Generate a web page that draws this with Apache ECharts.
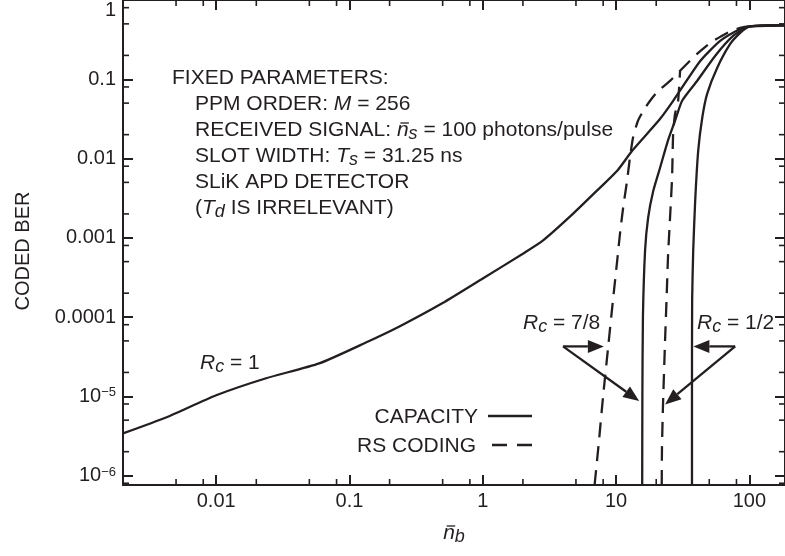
<!DOCTYPE html>
<html>
<head>
<meta charset="utf-8">
<script src="https://cdn.jsdelivr.net/npm/echarts@6/dist/echarts.min.js"></script>
<style>
html, body { margin: 0; padding: 0; background: #fff; }
#chart { width: 785px; height: 556px; }
</style>
</head>
<body>
<div id="chart"></div>
<script>
var FONT = '"Liberation Sans", Arial, sans-serif';
var INK = '#231f20';
var TXT = 21, SUB = 18;

var xMin = 0.002, xMax = 185;
var yMin = 7.6e-7, yMax = 1;

// tick labels, indexed by decade
var xTickLabels = ['0.01', '0.1', '1', '10', '100'];          // 10^-2 .. 10^2
var yTickLabels = ['1', '0.1', '0.01', '0.001', '0.0001', '10{sup|\u22125}', '10{sup|\u22126}']; // 10^0 .. 10^-6
var xMinorTicks = [0.005, 0.008, 0.02, 0.05, 0.08, 0.2, 0.5, 0.8, 2, 5, 8, 20, 50, 80];
var yMinorTicks = [8e-7, 2e-6, 5e-6, 8e-6, 2e-5, 5e-5, 8e-5, 2e-4, 5e-4, 8e-4, 2e-3, 5e-3, 8e-3,
	0.02, 0.05, 0.08, 0.2, 0.5, 0.8];

// R_c = 1 (no coding)
var uncodedX = [0.002, 0.0042, 0.01, 0.0237, 0.0593, 0.134, 0.237, 0.5, 1.0, 2.0, 2.82, 4.74, 7.59,
	10.2, 13.2, 17.1, 21.4, 26.8, 42.8, 60.4, 85.3, 100, 185];
var uncodedY = [3.4e-6, 5.4e-6, 1.03e-5, 1.69e-5, 2.6e-5, 4.8e-5, 7.6e-5, 1.5e-4, 3.06e-4, 6.3e-4, 9.2e-4, 2.0e-3, 4.3e-3,
	7.0e-3, 0.0125, 0.0205, 0.0317, 0.0535, 0.17, 0.305, 0.43, 0.465, 0.48];

// capacity, R_c = 7/8
var cap78X = [15.7, 15.75, 15.9, 16.5, 17.4, 19.0, 21.4, 24.5, 27.7, 31.3, 40.5, 55.3, 75.5, 98, 120, 185];
var cap78Y = [7.6e-7, 1e-5, 1e-4, 6.9e-4, 1.8e-3, 3.9e-3, 7.7e-3, 0.0168, 0.030, 0.0535, 0.095, 0.197, 0.352, 0.457, 0.475, 0.48];

// capacity, R_c = 1/2
var cap12X = [37.1, 37.1, 37.2, 37.9, 39.2, 41.3, 44.3, 48.2, 57.3, 71.8, 85.3, 98, 120, 185];
var cap12Y = [7.6e-7, 1e-5, 1.6e-4, 6.9e-4, 2.9e-3, 0.0125, 0.0327, 0.0655, 0.139, 0.279, 0.384, 0.457, 0.475, 0.48];

// RS coding, R_c = 7/8
var rs78X = [6.9, 7.45, 7.98, 8.71, 9.5, 10.2, 10.7, 11.3, 12.1, 12.7, 13.4, 14.6, 16.3, 18.0, 20.7, 25.4,
	30.2, 40.5, 50.8, 68.1, 85.3, 100, 185];
var rs78Y = [7.6e-7, 2.8e-6, 9.8e-6, 4.1e-5, 1.7e-4, 5.2e-4, 1.13e-3, 2.4e-3, 5.3e-3, 0.0102, 0.0183, 0.030, 0.042, 0.0535, 0.0714, 0.0955,
	0.128, 0.209, 0.287, 0.384, 0.444, 0.465, 0.48];

// RS coding, R_c = 1/2
var rs12X = [22.0, 22.1, 22.5, 23.3, 24.0, 24.5, 25.4, 26.3, 26.8, 27.7, 29.2, 30.2];
var rs12Y = [7.6e-7, 2.3e-6, 8e-6, 5e-5, 2e-4, 5.6e-4, 1.8e-3, 5.7e-3, 0.0205, 0.0367, 0.0535, 0.128];

// arrow anchors (data coords)
var arrow78From = [4.0, 4.26e-5];
var arrow78Tips = [[8.1, 4.26e-5], [14.9, 8.7e-6]];
var arrow12From = [78.2, 4.26e-5];
var arrow12Tips = [[38.0, 4.26e-5], [23.3, 7.9e-6]];

function zip(xs, ys) {
	var out = [];
	for (var i = 0; i < xs.length; i++) out.push([xs[i], ys[i]]);
	return out;
}

function decade(v) {
	var l = Math.log10(v);
	var e = Math.round(l);
	if (Math.abs(l - e) > 1e-6) return null;
	return e;
}

var measureCtx = document.createElement('canvas').getContext('2d');
function textWidth(text, size, italic) {
	measureCtx.font = (italic ? 'italic ' : '') + size + 'px ' + FONT;
	return measureCtx.measureText(text).width;
}

var richText = {
	i: { fontStyle: 'italic', fontSize: TXT, fontFamily: FONT, color: INK, lineHeight: 26 },
	s: { fontStyle: 'italic', fontSize: SUB, fontFamily: FONT, color: INK, lineHeight: 12, verticalAlign: 'bottom' }
};

function curve(name, xs, ys, dashed) {
	return {
		name: name,
		type: 'line',
		data: zip(xs, ys),
		symbol: 'none',
		smooth: 0.2,
		silent: true,
		lineStyle: { color: INK, width: 2.3, type: dashed ? [15, 9] : 'solid' }
	};
}

function minorTickSeries(values, isX) {
	return {
		type: 'custom',
		silent: true,
		clip: false,
		data: values.map(function (v) { return isX ? [v, yMin] : [xMin, v]; }),
		renderItem: function (params, api) {
			var cs = params.coordSys;
			var p = api.coord([api.value(0), api.value(1)]);
			var st = { stroke: INK, lineWidth: 1.6 };
			var len = 6;
			if (isX) {
				return { type: 'group', children: [
					{ type: 'line', shape: { x1: p[0], y1: cs.y + cs.height, x2: p[0], y2: cs.y + cs.height - len }, style: st },
					{ type: 'line', shape: { x1: p[0], y1: cs.y, x2: p[0], y2: cs.y + len }, style: st }
				] };
			}
			return { type: 'group', children: [
				{ type: 'line', shape: { x1: cs.x, y1: p[1], x2: cs.x + len, y2: p[1] }, style: st },
				{ type: 'line', shape: { x1: cs.x + cs.width, y1: p[1], x2: cs.x + cs.width - len, y2: p[1] }, style: st }
			] };
		}
	};
}

var axisLineStyle = { lineStyle: { color: INK, width: 2 } };
var majorTick = { inside: true, length: 10, lineStyle: { color: INK, width: 2 } };

var myChart = echarts.init(document.getElementById('chart'));

var option = {
	animation: false,
	backgroundColor: '#fff',
	grid: { left: 123, right: 0, top: -1, bottom: 71, containLabel: false },
	xAxis: [
		{
			type: 'log', min: xMin, max: xMax, position: 'bottom',
			axisLine: axisLineStyle, axisTick: majorTick, splitLine: { show: false },
			axisLabel: {
				color: INK, fontFamily: FONT, fontSize: 20, margin: 6,
				showMinLabel: false, showMaxLabel: false,
				formatter: function (v) {
					var e = decade(v);
					return e === null ? '' : (xTickLabels[e + 2] || '');
				}
			}
		},
		{
			type: 'log', min: xMin, max: xMax, position: 'top',
			axisLine: axisLineStyle, axisTick: majorTick, splitLine: { show: false },
			axisLabel: { show: false }
		}
	],
	yAxis: [
		{
			type: 'log', min: yMin, max: yMax, position: 'left',
			axisLine: axisLineStyle, axisTick: majorTick, splitLine: { show: false },
			axisLabel: {
				color: INK, fontFamily: FONT, fontSize: 20, lineHeight: 20, margin: 7,
				showMinLabel: false, verticalAlignMaxLabel: 'top',
				formatter: function (v) {
					var e = decade(v);
					return e === null ? '' : (yTickLabels[-e] || '');
				},
				rich: { sup: { fontSize: 13, fontFamily: FONT, color: INK, lineHeight: 8, verticalAlign: 'top' } }
			}
		},
		{
			type: 'log', min: yMin, max: yMax, position: 'right',
			axisLine: axisLineStyle, axisTick: majorTick, splitLine: { show: false },
			axisLabel: { show: false }
		}
	],
	series: [
		curve('R_c = 1', uncodedX, uncodedY, false),
		curve('CAPACITY 7/8', cap78X, cap78Y, false),
		curve('CAPACITY 1/2', cap12X, cap12Y, false),
		curve('RS 7/8', rs78X, rs78Y, true),
		curve('RS 1/2', rs12X, rs12Y, true),
		minorTickSeries(xMinorTicks, true),
		minorTickSeries(yMinorTicks, false)
	]
};
myChart.setOption(option);

function txt(x, y, text, align) {
	return {
		type: 'text', x: x, y: y, silent: true,
		style: {
			text: text, fill: INK, fontFamily: FONT, fontSize: TXT, lineHeight: 26,
			align: align || 'left', textAlign: align || 'left',
			verticalAlign: 'middle', textVerticalAlign: 'middle',
			rich: richText
		}
	};
}

// overbar for italic n, x = left edge of n, y = text middle line
function nBar(x, y) {
	return { type: 'line', silent: true, shape: { x1: x + 3.5, y1: y - 7, x2: x + 12, y2: y - 7 }, style: { stroke: INK, lineWidth: 1.3 } };
}

function arrow(from, tip) {
	var a = myChart.convertToPixel({ xAxisIndex: 0, yAxisIndex: 0 }, from);
	var b = myChart.convertToPixel({ xAxisIndex: 0, yAxisIndex: 0 }, tip);
	var dx = b[0] - a[0], dy = b[1] - a[1];
	var len = Math.sqrt(dx * dx + dy * dy);
	var ux = dx / len, uy = dy / len;
	var headLen = 16, headW = 6.5;
	var bx = b[0] - ux * headLen, by = b[1] - uy * headLen;
	return [
		{ type: 'line', silent: true, shape: { x1: a[0], y1: a[1], x2: bx, y2: by }, style: { stroke: INK, lineWidth: 2.3 } },
		{ type: 'polygon', silent: true, shape: { points: [[b[0], b[1]], [bx - uy * headW, by + ux * headW], [bx + uy * headW, by - ux * headW]] }, style: { fill: INK } }
	];
}

var graphics = [];
graphics.push(txt(172, 78, 'FIXED PARAMETERS:'));
var blockX = 195, blockTop = 91;
graphics.push({
	type: 'text', x: blockX, y: blockTop, silent: true,
	style: {
		text: 'PPM ORDER: {i|M} = 256\n' +
			'RECEIVED SIGNAL: {i|n}{s|s} = 100 photons/pulse\n' +
			'SLOT WIDTH: {i|T}{s|s} = 31.25 ns\n' +
			'SLiK APD DETECTOR\n' +
			'({i|T}{s|d} IS IRRELEVANT)',
		fill: INK, fontFamily: FONT, fontSize: TXT, lineHeight: 26,
		align: 'left', textAlign: 'left', verticalAlign: 'top', textVerticalAlign: 'top',
		rich: richText
	}
});
graphics.push(nBar(blockX + textWidth('RECEIVED SIGNAL: ', TXT, false), blockTop + 26 + 13));

graphics.push(txt(200, 363, '{i|R}{s|c} = 1'));
graphics.push(txt(523, 323, '{i|R}{s|c} = 7/8'));
graphics.push(txt(697, 323, '{i|R}{s|c} = 1/2'));

// legend
graphics.push(txt(478, 417, 'CAPACITY', 'right'));
graphics.push(txt(476, 446, 'RS CODING', 'right'));
graphics.push({ type: 'line', silent: true, shape: { x1: 488, y1: 416, x2: 532, y2: 416 }, style: { stroke: INK, lineWidth: 2.3 } });
graphics.push({ type: 'line', silent: true, shape: { x1: 492, y1: 445, x2: 532, y2: 445 }, style: { stroke: INK, lineWidth: 2.3, lineDash: [15, 10] } });

// axis titles
var nameW = textWidth('n', TXT, true) + textWidth('b', SUB, true);
var nameX = 123 + 331 - nameW / 2, nameY = 533;
graphics.push(txt(nameX, nameY, '{i|n}{s|b}'));
graphics.push(nBar(nameX, nameY));
graphics.push({
	type: 'text', x: 23, y: 251, rotation: Math.PI / 2, silent: true,
	style: { text: 'CODED BER', fill: INK, fontFamily: FONT, fontSize: 20,
		align: 'center', textAlign: 'center', verticalAlign: 'middle', textVerticalAlign: 'middle' }
});

arrow78Tips.forEach(function (t) { graphics = graphics.concat(arrow(arrow78From, t)); });
arrow12Tips.forEach(function (t) { graphics = graphics.concat(arrow(arrow12From, t)); });

myChart.setOption({ graphic: graphics });
</script>
</body>
</html>
